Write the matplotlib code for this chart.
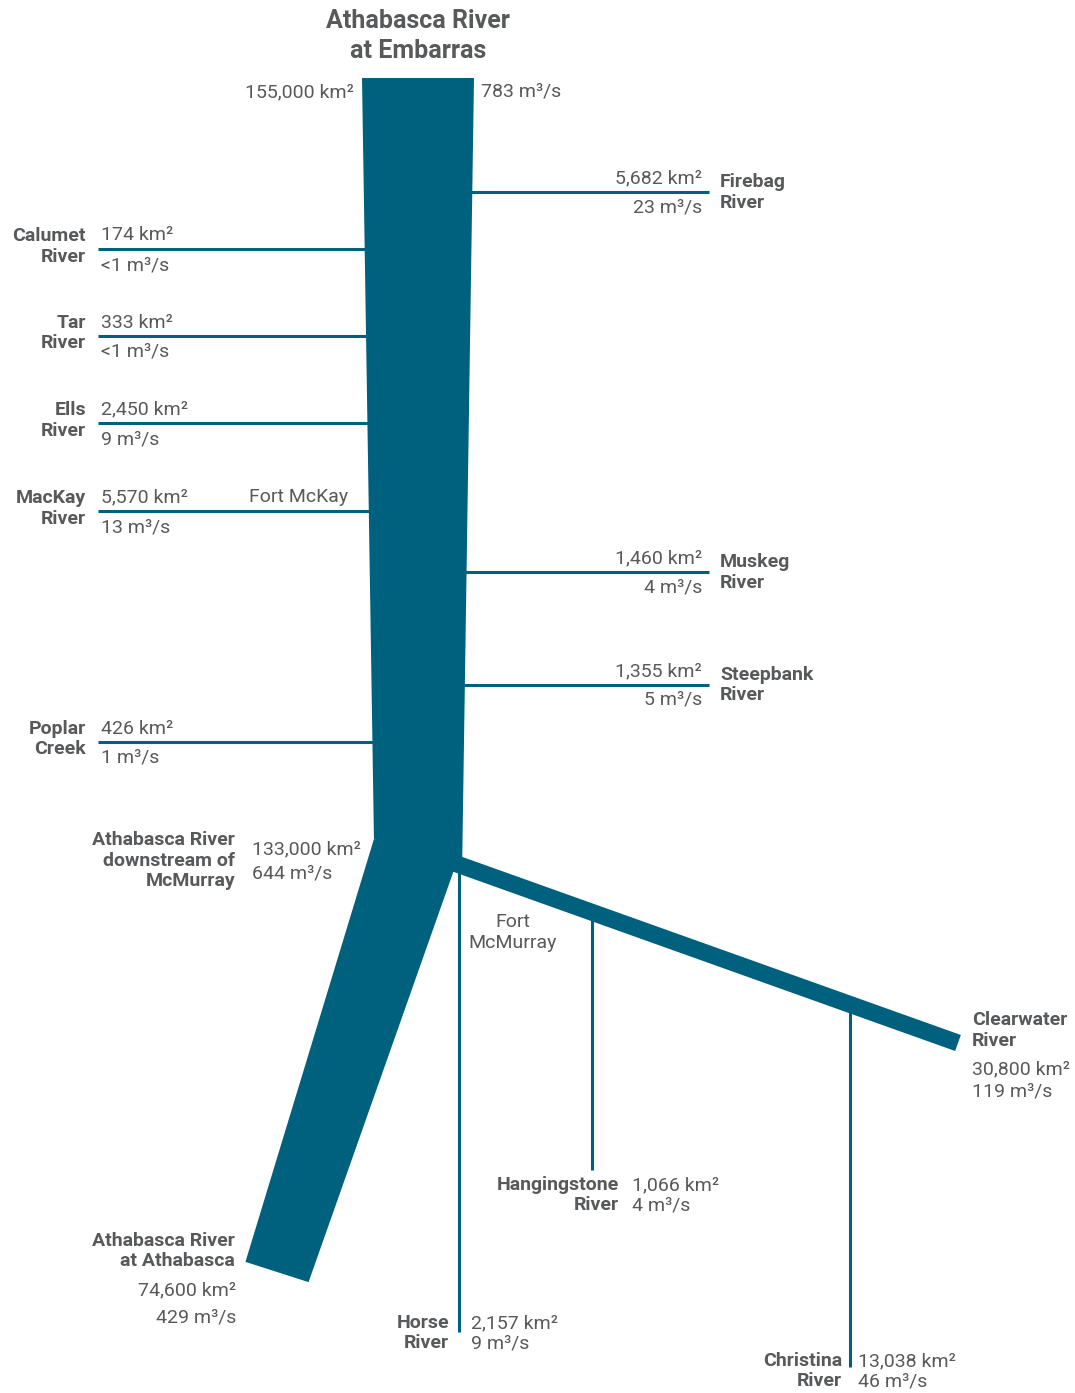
import numpy as np
import matplotlib.pyplot as plt
from matplotlib.patches import Polygon

BLUE = '#00617f'
GREY = '#58595b'
plt.rcParams['font.family'] = ['Roboto', 'DejaVu Sans']

# Main stem stations: area (km2) and mean flow (m3/s)
main_names = ["Athabasca River\nat Embarras", "Athabasca River\ndownstream of\nMcMurray",
              "Athabasca River\nat Athabasca", "Clearwater\nRiver"]
main_areas = [155000, 133000, 74600, 30800]
main_flows = [783, 644, 429, 119]

# Tributaries joining from the west
left_names = ["Calumet\nRiver", "Tar\nRiver", "Ells\nRiver", "MacKay\nRiver", "Poplar\nCreek"]
left_areas = [174, 333, 2450, 5570, 426]
left_flows = ["<1", "<1", "9", "13", "1"]

# Tributaries joining from the east
right_names = ["Firebag\nRiver", "Muskeg\nRiver", "Steepbank\nRiver"]
right_areas = [5682, 1460, 1355]
right_flows = ["23", "4", "5"]

# Tributaries near Fort McMurray
low_names = ["Horse\nRiver", "Hangingstone\nRiver", "Christina\nRiver"]
low_areas = [2157, 1066, 13038]
low_flows = ["9", "4", "46"]

# schematic layout (pixels)
left_y = [249, 336, 423, 511, 742]
right_y = [192, 572, 685]
low_x = [459, 592, 850]
low_end = [1332, 1170, 1367]
low_lab = [(-10, 12, 1323), (27, 40, 1185), (-8, 8, 1361)]  # name dx, value dx, top y

k = 112 / 783  # channel width per m3/s
cx, top_y, bot_y = 418, 78, 845
FS = 14

fig = plt.figure(figsize=(10.75, 13.93), dpi=100)
ax = fig.add_axes([0, 0, 1, 1])
ax.set_xlim(0, 1075)
ax.set_ylim(1393, 0)
ax.axis('off')


def txt(x, y, s, ha='left', bold=False, size=FS, gap=20.5):
    for i, line in enumerate(s.split('\n')):
        ax.text(x, y + i * gap, line, ha=ha, va='center', fontsize=size,
                color=GREY, fontweight='bold' if bold else 'normal')


def area(a):
    return f"{a:,} km\u00b2"


def flow(f):
    return f"{f} m\u00b3/s"


def band(p0, p1, w0, w1):
    p0, p1 = np.array(p0, float), np.array(p1, float)
    d = (p1 - p0) / np.linalg.norm(p1 - p0)
    n = np.array([-d[1], d[0]])
    return [p0 + n * w0 / 2, p1 + n * w1 / 2, p1 - n * w1 / 2, p0 - n * w0 / 2]


w_top = main_flows[0] * k
w_bot = main_flows[1] * k

# main stem (bottom runs into the reaches below so the join has no gap)
ax.add_patch(Polygon([(cx - w_top / 2, top_y), (cx + w_top / 2, top_y),
                      (cx + w_bot / 2 - 2, bot_y + 26), (cx - w_bot / 2 + 2, bot_y - 6)],
                     closed=True, fc=BLUE, ec='none', zorder=2))

# upstream reach towards Athabasca
T = np.array([414, 845.0])
B = np.array([277, 1272.0])
d = (B - T) / np.linalg.norm(B - T)
n = np.array([d[1], -d[0]])
w_ath = main_flows[2] * k * 1.08
ax.add_patch(Polygon([(cx - w_bot / 2 + 2, bot_y - 6), T + n * w_bot / 2,
                      B + n * w_ath / 2, B - n * w_ath / 2],
                     closed=True, fc=BLUE, ec='none', zorder=2))

# Clearwater
J, E = (440, 858), (958, 1043)
ax.add_patch(Polygon(band(J, E, main_flows[3] * k, main_flows[3] * k),
                     closed=True, fc=BLUE, ec='none', zorder=2))

lw = 2.2
for y, nm, a, f in zip(left_y, left_names, left_areas, left_flows):
    ax.plot([98, cx], [y, y], color=BLUE, lw=lw, zorder=1, solid_capstyle='butt')
    txt(86, y - 13, nm, ha='right', bold=True)
    txt(101, y - 13.5, area(a))
    txt(101, y + 16, flow(f))

ax.text(348, left_y[3] - 13.5, "Fort McKay", ha='right', va='center', fontsize=FS, color=GREY)

for y, nm, a, f in zip(right_y, right_names, right_areas, right_flows):
    ax.plot([cx, 709], [y, y], color=BLUE, lw=lw, zorder=1, solid_capstyle='butt')
    txt(720, y - 10, nm, bold=True)
    txt(702, y - 14, area(a), ha='right')
    txt(702, y + 15, flow(f), ha='right')

slope = (E[1] - J[1]) / (E[0] - J[0])
for i, (x, nm, a, f) in enumerate(zip(low_x, low_names, low_areas, low_flows)):
    y0 = 870 if i == 0 else J[1] + (x - J[0]) * slope
    ax.plot([x, x], [y0, low_end[i]], color=BLUE, lw=lw, zorder=1, solid_capstyle='butt')
    ndx, vdx, ty = low_lab[i]
    txt(x + ndx, ty, nm, ha='right', bold=True)
    txt(x + vdx, ty, area(a))
    txt(x + vdx, ty + 21, flow(f))

txt(513, 922, "Fort\nMcMurray", ha='center')

# main stem labels
txt(cx, 21, main_names[0], ha='center', bold=True, size=18, gap=30)
txt(354, 92, area(main_areas[0]), ha='right')
txt(481, 92, flow(main_flows[0]))

txt(235, 840, main_names[1], ha='right', bold=True)
txt(252, 849, area(main_areas[1]))
txt(252, 874, flow(main_flows[1]))

txt(235, 1241, main_names[2], ha='right', bold=True)
txt(236, 1290, area(main_areas[2]), ha='right')
txt(236, 1318, flow(main_flows[2]), ha='right')

txt(972, 1020, main_names[3], bold=True)
txt(972, 1069, area(main_areas[3]))
txt(972, 1092, flow(main_flows[3]))

fig.savefig('out.png', dpi=100)
